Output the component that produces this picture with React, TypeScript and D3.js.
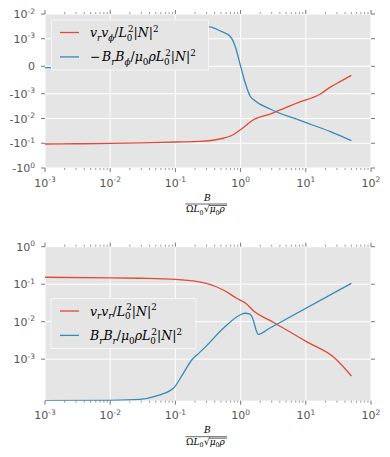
import * as d3 from 'd3';
import React from 'react';

// ---- data ----
// top panel: v_r v_phi and -B_r B_phi (symlog y)
const topRedX = [0.001, 0.003, 0.01, 0.03, 0.1, 0.237, 0.48, 0.77, 1.03, 1.55, 2.82, 8.1, 16.5, 23.4, 33.6, 50];
const topRedY = [-0.107, -0.105, -0.102, -0.097, -0.089, -0.0843, -0.0673, -0.0452, -0.0266, -0.0115, -0.0066, -0.00215, -0.00105, -0.00077, -0.00056, -0.00033];
const topBlueX = [0.001, 0.003, 0.01, 0.03, 0.1, 0.2, 0.318, 0.48, 0.7, 0.82, 0.98, 1.17, 1.39, 1.66, 2.82, 8.1, 23.4, 50];
const topBlueY = [-0.00005, -0.00004, 0.00001, 0.0002, 0.0012, 0.0028, 0.00307, 0.00211, 0.00121, 0.000747, 0.000082, -0.000584, -0.0012, -0.00191, -0.00413, -0.012, -0.0334, -0.079];

// bottom panel: v_r v_r and B_r B_r (log y)
const botRedX = [0.001, 0.01, 0.0286, 0.1, 0.3, 0.543, 0.87, 1.21, 1.66, 2.82, 4.3, 10.4, 28, 35.5, 50];
const botRedY = [0.153, 0.148, 0.144, 0.135, 0.1057, 0.07, 0.042, 0.0306, 0.018, 0.0108, 0.0071, 0.0029, 0.00106, 0.0007, 0.000356];
const botBlueX = [0.001, 0.01, 0.0286, 0.0516, 0.0929, 0.132, 0.178, 0.23, 0.302, 0.543, 0.98, 1.17, 1.39, 1.5, 1.87, 2.82, 50];
const botBlueY = [7.8e-5, 8.0e-5, 8.5e-5, 1.05e-4, 1.67e-4, 4.2e-4, 9.5e-4, 1.45e-3, 2.3e-3, 6.67e-3, 0.0151, 0.0168, 0.016, 0.0133, 0.0046, 0.0068, 0.105];

const xTicks = [1e-3, 1e-2, 1e-1, 1, 10, 100];
const xTickLabels = [['10', '-3'], ['10', '-2'], ['10', '-1'], ['10', '0'], ['10', '1'], ['10', '2']];
const topYTicks = [1e-2, 1e-3, 0, -1e-3, -1e-2, -1e-1, -1];
const topYLabels = [['10', '-2'], ['10', '-3'], ['0', ''], ['-10', '-3'], ['-10', '-2'], ['-10', '-1'], ['-10', '0']];
const botYTicks = [1, 1e-1, 1e-2, 1e-3];
const botYLabels = [['10', '0'], ['10', '-1'], ['10', '-2'], ['10', '-3']];
const botYMin = 7.8e-5;

const RED = '#E24A33';
const BLUE = '#348ABD';
const BG = '#E5E5E5';
const TICK = '#555555';

const X0 = 45, X1 = 371;
const x = d3.scaleLog().domain([1e-3, 1e2]).range([X0, X1]);

// matplotlib style symlog, linthresh 1e-3, linscale 1
const LT = 1e-3;
const LS = 1 / (1 - 1 / 10);
const sym = (v: number) => {
  const a = Math.abs(v);
  return a <= LT ? (v / LT) * LS : Math.sign(v) * (LS + Math.log10(a / LT));
};
const topLin = d3.scaleLinear().domain([sym(-1), sym(1e-2)]).range([168, 14]);
const yTop = (v: number) => topLin(sym(v));
const yBot = d3.scaleLog().domain([botYMin, 1]).range([400.7, 246.7]);

const minorX: number[] = [];
for (let d = -3; d < 2; d++) for (let k = 2; k < 10; k++) minorX.push(k * Math.pow(10, d));

// math text: [text, level n/b/p, italic, dx]
type Seg = [string, string, boolean?, number?];
function MathText({ x0, y0, size, segs }: { x0: number; y0: number; size: number; segs: Seg[] }) {
  let cur = 0;
  return (
    <text x={x0} y={y0} fontFamily="DejaVu Serif" fontSize={size} fill="#000">
      {segs.map((s, i) => {
        const target = s[1] === 'b' ? size * 0.3 : s[1] === 'p' ? -size * 0.42 : 0;
        const dy = target - cur;
        cur = target;
        return (
          <tspan key={i} dy={dy} dx={s[3] || 0} fontSize={s[1] === 'n' ? size : size * 0.7}
            fontStyle={s[2] ? 'italic' : 'normal'}>{s[0]}</tspan>
        );
      })}
    </text>
  );
}

function TickLabel({ tx, ty, anchor, lab }: { tx: number; ty: number; anchor: string; lab: string[] }) {
  return (
    <text x={tx} y={ty} textAnchor={anchor} fontFamily="DejaVu Sans" fontSize={11} fill={TICK}>
      {lab[0]}
      {lab[1] && <tspan dy={-4.5} fontSize={7.5}>{lab[1]}</tspan>}
    </text>
  );
}

function Panel({ id, top, bottom, y, yTicks, yLabels, series, legend }: any) {
  const line = d3.line<number[]>().x(d => x(d[0])).y(d => y(d[1])).curve(d3.curveMonotoneX);
  return (
    <g>
      <defs>
        <clipPath id={id}>
          <rect x={X0} y={top} width={X1 - X0} height={bottom - top} />
        </clipPath>
      </defs>
      <rect x={X0} y={top} width={X1 - X0} height={bottom - top} fill={BG} />
      {xTicks.map((t, i) => (
        <line key={'gx' + i} x1={x(t)} x2={x(t)} y1={top} y2={bottom} stroke="#fff" strokeWidth={1} />
      ))}
      {yTicks.map((t: number, i: number) => (
        <line key={'gy' + i} x1={X0} x2={X1} y1={y(t)} y2={y(t)} stroke="#fff" strokeWidth={1} />
      ))}
      <g clipPath={`url(#${id})`}>
        {series.map((s: any, i: number) => (
          <path key={i} d={line(s.xs.map((v: number, j: number) => [v, s.ys[j]])) || ''}
            fill="none" stroke={s.color} strokeWidth={1.3} />
        ))}
      </g>
      {/* ticks, outward on all four sides */}
      {xTicks.map((t, i) => (
        <g key={'tx' + i} stroke={TICK} strokeWidth={0.8}>
          <line x1={x(t)} x2={x(t)} y1={bottom} y2={bottom + 4} />
          <line x1={x(t)} x2={x(t)} y1={top} y2={top - 4} />
        </g>
      ))}
      {minorX.map((t, i) => (
        <g key={'mx' + i} stroke={TICK} strokeWidth={0.6}>
          <line x1={x(t)} x2={x(t)} y1={bottom} y2={bottom + 2} />
          <line x1={x(t)} x2={x(t)} y1={top} y2={top - 2} />
        </g>
      ))}
      {yTicks.map((t: number, i: number) => (
        <g key={'ty' + i} stroke={TICK} strokeWidth={0.8}>
          <line x1={X0} x2={X0 - 4} y1={y(t)} y2={y(t)} />
          <line x1={X1} x2={X1 + 4} y1={y(t)} y2={y(t)} />
        </g>
      ))}
      {xTicks.map((t, i) => (
        <TickLabel key={'lx' + i} tx={x(t)} ty={bottom + 18.5} anchor="middle" lab={xTickLabels[i]} />
      ))}
      {yTicks.map((t: number, i: number) => (
        <TickLabel key={'ly' + i} tx={35} ty={y(t) + 4} anchor="end" lab={yLabels[i]} />
      ))}
      {/* legend */}
      <rect x={legend.x} y={legend.y} width={legend.w} height={50} fill={BG} stroke="#f5f5f5" strokeWidth={1} />
      {legend.items.map((it: any, i: number) => (
        <g key={'lg' + i}>
          <line x1={60} x2={79} y1={legend.y + 12.5 + i * 24.4} y2={legend.y + 12.5 + i * 24.4}
            stroke={it.color} strokeWidth={1.3} />
          <MathText x0={90} y0={legend.y + 17 + i * 24.4} size={12.5} segs={it.segs} />
        </g>
      ))}
      {/* x label: B / (Omega L0 sqrt(mu0 rho)) */}
      <MathText x0={204} y0={bottom + 32.5} size={9} segs={[['B', 'n', true]]} />
      <line x1={185.5} x2={227} y1={bottom + 36} y2={bottom + 36} stroke="#000" strokeWidth={0.6} />
      <MathText x0={186} y0={bottom + 44} size={9}
        segs={[['Ω', 'n'], ['L', 'n', true], ['0', 'b'], ['√', 'n', false, 0.5], ['μ', 'n', true], ['0', 'b'], ['ρ', 'n', true]]} />
      <line x1={209} x2={227} y1={bottom + 37.5} y2={bottom + 37.5} stroke="#000" strokeWidth={0.6} />
    </g>
  );
}

const L02: Seg[] = [['L', 'n', true], ['0', 'b'], ['2', 'p', false, -4.4]];
const N2: Seg[] = [['|', 'n'], ['N', 'n', true], ['|', 'n'], ['2', 'p']];

export default function App() {
  return (
    <svg width={390} height={457} style={{ position: 'absolute', left: 0, top: 0, background: '#fff' }}>
      <Panel id="clipTop" top={14} bottom={168} y={yTop} yTicks={topYTicks} yLabels={topYLabels}
        series={[{ xs: topRedX, ys: topRedY, color: RED }, { xs: topBlueX, ys: topBlueY, color: BLUE }]}
        legend={{
          x: 51.5, y: 20, w: 157, items: [
            { color: RED, segs: [['v', 'n', true], ['r', 'b', true], ['v', 'n', true], ['ϕ', 'b', true], ['/', 'n'], ...L02, ...N2] },
            { color: BLUE, segs: [['−', 'n'], ['B', 'n', true, 1.5], ['r', 'b', true], ['B', 'n', true], ['ϕ', 'b', true], ['/', 'n'], ['μ', 'n', true], ['0', 'b'], ['ρ', 'n', true], ...L02, ...N2] },
          ],
        }} />
      <Panel id="clipBot" top={246.7} bottom={400.7} y={yBot} yTicks={botYTicks} yLabels={botYLabels}
        series={[{ xs: botRedX, ys: botRedY, color: RED }, { xs: botBlueX, ys: botBlueY, color: BLUE }]}
        legend={{
          x: 51, y: 298.5, w: 145, items: [
            { color: RED, segs: [['v', 'n', true], ['r', 'b', true], ['v', 'n', true], ['r', 'b', true], ['/', 'n'], ...L02, ...N2] },
            { color: BLUE, segs: [['B', 'n', true], ['r', 'b', true], ['B', 'n', true], ['r', 'b', true], ['/', 'n'], ['μ', 'n', true], ['0', 'b'], ['ρ', 'n', true], ...L02, ...N2] },
          ],
        }} />
    </svg>
  );
}
